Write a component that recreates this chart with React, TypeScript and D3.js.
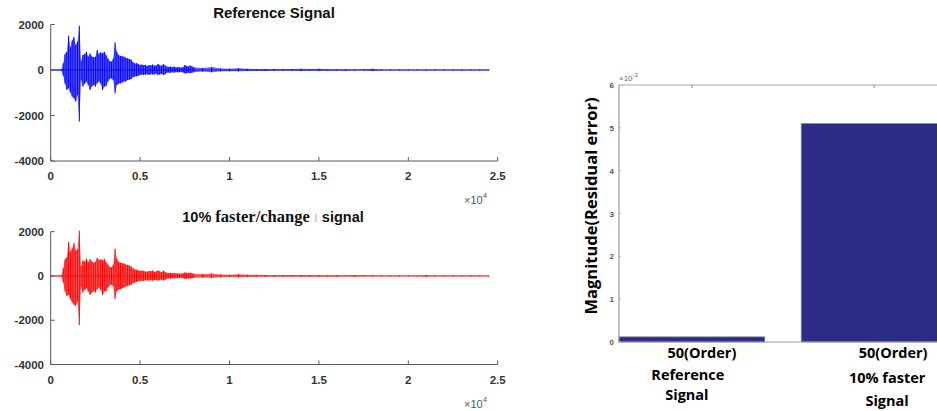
import React from 'react';
import * as d3 from 'd3';

// ---------- Signal envelopes (sample index, max, min) ----------
const sigPos = [0, 600, 700, 800, 900, 1000, 1100, 1200, 1300, 1400, 1500, 1600, 1700, 1800, 1900, 2000, 2100, 2200, 2300, 2400, 2500, 2600, 2700, 2800, 2900, 3000, 3100, 3200, 3300, 3400, 3500, 3600, 3700, 3800, 3900, 4000, 4100, 4200, 4300, 4400, 4500, 4600, 4700, 4800, 4900, 5000, 5100, 5200, 5300, 5400, 5500, 5600, 5700, 5800, 5900, 6000, 6100, 6200, 6300, 6400, 6500, 6600, 6700, 6800, 6900, 7000, 7100, 7200, 7300, 7400, 7500, 7600, 7700, 7800, 7900, 8000, 8500, 9000, 9500, 10000, 10500, 11000, 11500, 12000, 12500, 13000, 13500, 14000, 14500, 15000, 15500, 16000, 16500, 17000, 17500, 18000, 18500, 19000, 19500, 20000, 20500, 21000, 21500, 22000, 22500, 23000, 23500, 24000, 24500];

const refHi = [20, 30, 300, 700, 800, 1510, 1000, 1300, 1450, 1100, 1250, 1950, 400, 660, 700, 800, 585, 730, 600, 550, 585, 880, 700, 780, 730, 800, 650, 510, 400, 365, 500, 1215, 800, 660, 620, 600, 585, 540, 510, 480, 450, 350, 290, 300, 260, 220, 240, 210, 220, 180, 220, 200, 240, 190, 200, 260, 220, 180, 260, 200, 150, 130, 150, 120, 150, 110, 130, 120, 100, 130, 220, 180, 150, 200, 160, 120, 90, 130, 70, 60, 80, 50, 45, 45, 40, 40, 45, 50, 40, 55, 35, 30, 35, 30, 30, 50, 25, 25, 25, 25, 25, 25, 25, 25, 25, 25, 25, 25, 25];
const refLo = [-20, -30, -250, -600, -880, -800, -1000, -1170, -1250, -1390, -1100, -2270, -450, -730, -600, -510, -660, -880, -730, -650, -730, -585, -500, -600, -880, -730, -700, -510, -400, -365, -450, -1025, -660, -600, -585, -550, -510, -500, -440, -430, -400, -320, -290, -280, -250, -220, -200, -220, -200, -190, -220, -180, -200, -190, -170, -220, -200, -170, -220, -190, -120, -110, -120, -100, -120, -90, -100, -100, -80, -110, -150, -140, -120, -140, -120, -100, -70, -100, -55, -50, -60, -45, -40, -40, -35, -30, -35, -45, -35, -45, -30, -30, -30, -25, -25, -40, -25, -25, -25, -25, -25, -25, -25, -25, -25, -25, -25, -25, -25];

const fastHi = [20, 30, 350, 750, 850, 1530, 1100, 1250, 1500, 1150, 1200, 2050, 450, 700, 650, 780, 620, 760, 650, 600, 640, 820, 720, 760, 700, 780, 620, 520, 420, 380, 520, 1230, 780, 640, 600, 580, 560, 520, 500, 470, 430, 340, 300, 280, 250, 230, 250, 220, 200, 190, 230, 210, 250, 180, 210, 250, 210, 170, 240, 190, 140, 130, 140, 120, 140, 110, 120, 110, 100, 120, 160, 140, 130, 150, 120, 100, 90, 110, 70, 60, 80, 55, 50, 45, 40, 40, 45, 40, 45, 35, 30, 30, 30, 40, 30, 30, 25, 25, 25, 25, 25, 40, 25, 25, 25, 25, 25, 25, 25];
const fastLo = [-20, -30, -300, -700, -900, -850, -1050, -1200, -1300, -1350, -1150, -2220, -500, -750, -620, -550, -700, -850, -760, -680, -750, -600, -520, -620, -850, -700, -680, -520, -420, -380, -480, -1050, -680, -620, -600, -560, -520, -480, -450, -420, -400, -330, -300, -270, -240, -230, -210, -230, -190, -200, -210, -190, -210, -180, -180, -210, -190, -160, -210, -180, -120, -110, -120, -100, -110, -90, -100, -90, -80, -100, -130, -120, -110, -120, -100, -90, -70, -90, -55, -50, -60, -45, -40, -40, -35, -30, -35, -35, -40, -30, -30, -30, -25, -35, -25, -25, -25, -25, -25, -25, -25, -35, -25, -25, -25, -25, -25, -25, -25];

const signalYTicks = [-4000, -2000, 0, 2000];
const signalXTicks = [0, 5000, 10000, 15000, 20000, 25000];
const signalXTickLabels = ['0', '0.5', '1', '1.5', '2', '2.5'];

// ---------- Residual error bar chart ----------
const barCategories = [1, 2];
const barValues = [0.00012, 0.0051];
const barLabels = [
  ['50(Order)', 'Reference', 'Signal'],
  ['50(Order)', '10% faster', 'Signal'],
];
const barYTicks = [0, 1, 2, 3, 4, 5, 6];

const W = 937;
const H = 411;
const sans = '"Liberation Sans", Arial, sans-serif';
const serif = '"Liberation Serif", "Times New Roman", serif';
const calib = '"Open Sans", "Noto Sans", sans-serif';

function SignalPlot({ top, bottom, hi, lo, color, title }: { top: number; bottom: number; hi: number[]; lo: number[]; color: string; title: React.ReactNode }) {
  const x = d3.scaleLinear().domain([0, 25000]).range([50.7, 497.7]);
  const y = d3.scaleLinear().domain([-4000, 2000]).range([bottom, top]);
  const axisColor = '#5a5a5a';
  const idx = sigPos.map((_, i) => i);
  const area = d3
    .area<number>()
    .x((i) => x(sigPos[i]))
    .y0((i) => y(lo[i]))
    .y1((i) => y(hi[i]))(idx) || '';
  const verticals = idx.map((i) => `M${x(sigPos[i])},${y(hi[i])}V${y(lo[i])}`).join('');
  return (
    <g>
      <path d={area} fill={color} fillOpacity={0.6} stroke="none" />
      <path d={verticals} fill="none" stroke={color} strokeWidth={1} />
      <line x1={x(0)} x2={x(sigPos[sigPos.length - 1])} y1={y(0)} y2={y(0)} stroke={color} strokeOpacity={0.55} strokeWidth={1.3} />
      <line x1={x(0)} x2={x(25000)} y1={bottom} y2={bottom} stroke={axisColor} strokeWidth={1} />
      <line x1={x(0)} x2={x(0)} y1={top} y2={bottom} stroke={axisColor} strokeWidth={1} />
      {signalYTicks.map((v) => (
        <g key={v}>
          <line x1={x(0)} x2={x(0) + 4} y1={y(v)} y2={y(v)} stroke={axisColor} />
          <text x={44} y={y(v) + 4} textAnchor="end" fontFamily={sans} fontWeight="bold" fontSize={11.5} fill="#333">
            {v}
          </text>
        </g>
      ))}
      {signalXTicks.map((v, i) => (
        <g key={v}>
          <line x1={x(v)} x2={x(v)} y1={bottom} y2={bottom - 4} stroke={axisColor} />
          <text x={x(v)} y={bottom + 19} textAnchor="middle" fontFamily={sans} fontWeight="bold" fontSize={11.5} fill="#333">
            {signalXTickLabels[i]}
          </text>
        </g>
      ))}
      <text x={464} y={bottom + 43} fontFamily={sans} fontSize={11} fill="#555">
        ×10
        <tspan dy={-6} fontSize={8}>4</tspan>
      </text>
      {title}
    </g>
  );
}

function BarChart() {
  const x = d3.scaleLinear().domain([0.6, 2.4]).range([619, 947]);
  const y = d3.scaleLinear().domain([0, 0.006]).range([342, 85]);
  const bw = x(1.4) - x(0.6);
  return (
    <g>
      {barCategories.map((c, i) => (
        <rect key={c} x={x(c - 0.4)} y={y(barValues[i])} width={bw} height={y(0) - y(barValues[i])} fill="#2d2c87" stroke="#8a8a8a" strokeWidth={0.8} />
      ))}
      <line x1={x(0.6)} x2={W} y1={y(0)} y2={y(0)} stroke="#9a9a9a" strokeWidth={1} />
      <line x1={x(0.6)} x2={W} y1={y(0.006)} y2={y(0.006)} stroke="#a8a8a8" strokeWidth={1} />
      <line x1={x(0.6)} x2={x(0.6)} y1={y(0)} y2={y(0.006)} stroke="#8a8a8a" strokeWidth={1} />
      {barCategories.map((c) => (
        <line key={c} x1={x(c)} x2={x(c)} y1={y(0.006)} y2={y(0.006) + 3} stroke="#888" />
      ))}
      {barYTicks.map((v) => (
        <g key={v}>
          <line x1={x(0.6)} x2={x(0.6) + 2} y1={y(v / 1000)} y2={y(v / 1000)} stroke="#aaa" />
          <text x={614} y={y(v / 1000) + 3} textAnchor="end" fontFamily={sans} fontWeight="bold" fontSize={8} fill="#555">
            {v}
          </text>
        </g>
      ))}
      <text x={619} y={81} fontFamily={sans} fontSize={8} fill="#666">
        ×10
        <tspan dy={-4} fontSize={6}>-3</tspan>
      </text>
      <text transform="translate(597,206) rotate(-90)" textAnchor="middle" fontFamily={calib} fontWeight="bold" fontSize={16.5} fill="#000">
        Magnitude(Residual error)
      </text>
      {barCategories.map((c, i) => (
        <g key={c}>
          {barLabels[i].map((s, j) => (
            <text key={j} x={x(c) + (i === 0 ? [10, -4, -5][j] : [19, 13, 13][j])} y={[358, 380, 400][j] + (i === 1 && j > 0 ? [0, 3, 6][j] : 0)} textAnchor="middle" fontFamily={calib} fontWeight="bold" fontSize={14.5} fill="#000">
              {s}
            </text>
          ))}
        </g>
      ))}
    </g>
  );
}

export default function App() {
  return (
    <svg width={W} height={H} style={{ position: 'absolute', left: 0, top: 0, background: '#fff' }}>
      <rect width={W} height={H} fill="#fff" />
      <SignalPlot
        top={24.5}
        bottom={161}
        hi={refHi}
        lo={refLo}
        color="#0000ff"
        title={
          <text x={274} y={18} textAnchor="middle" fontFamily={sans} fontWeight="bold" fontSize={15} fill="#111">
            Reference Signal
          </text>
        }
      />
      <SignalPlot
        top={231.7}
        bottom={364.5}
        hi={fastHi}
        lo={fastLo}
        color="#ff0000"
        title={
          <text x={273} y={222} textAnchor="middle" fontWeight="bold" fontSize={14.5} fill="#111">
            <tspan fontFamily={sans}>10% </tspan>
            <tspan fontFamily={serif} fontSize={16.5}>faster/change</tspan>
            <tspan fontFamily={sans} fill="#bbb" fontWeight="normal"> ı </tspan>
            <tspan fontFamily={sans}>signal</tspan>
          </text>
        }
      />
      <BarChart />
    </svg>
  );
}
